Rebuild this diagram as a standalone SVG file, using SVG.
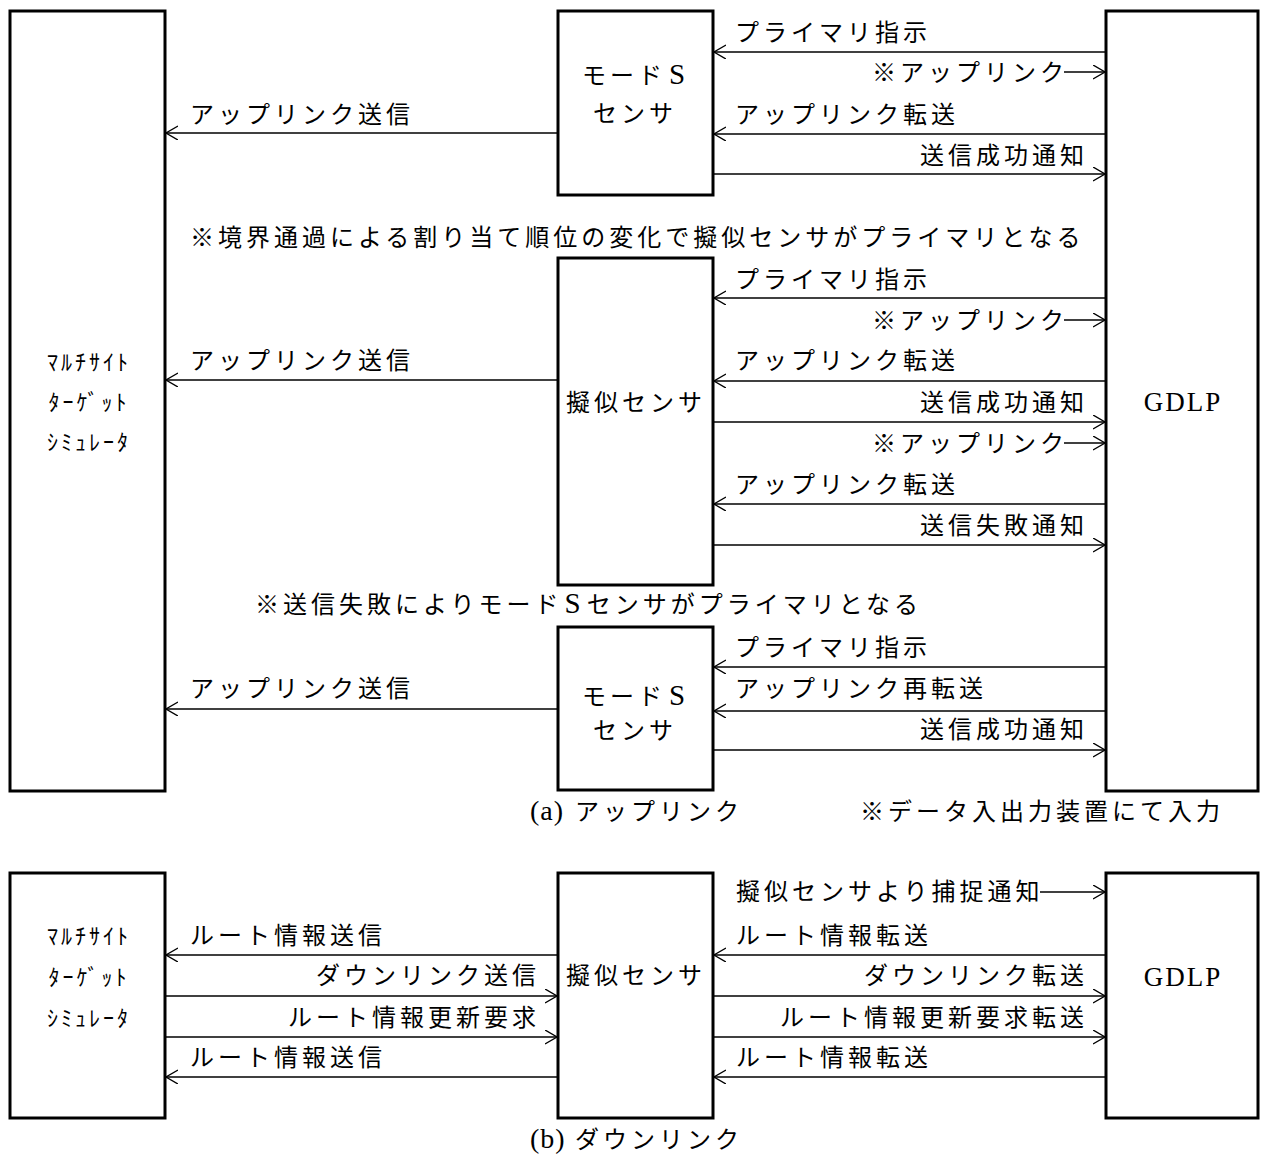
<svg xmlns="http://www.w3.org/2000/svg" width="1264" height="1154" viewBox="0 0 1264 1154">
<defs>
<style>
.box{fill:#fff;stroke:#000;stroke-width:3}
.ln{stroke:#000;stroke-width:1.4;fill:none;marker-end:url(#ah)}
.t{font-family:"Noto Sans CJK JP","Noto Sans CJK SC",sans-serif;font-size:24px;letter-spacing:4px;fill:#000}
.e{text-anchor:end}
.h{font-family:"Noto Sans CJK JP",sans-serif;font-size:22px;letter-spacing:3px;fill:#000;text-anchor:middle}
.s{font-family:"Liberation Serif",serif;font-size:29px;letter-spacing:0}
.c{font-family:"Liberation Serif",serif;font-size:28px;letter-spacing:1px}
.g{font-family:"Liberation Serif",serif;font-size:27px;letter-spacing:2px;text-anchor:middle;fill:#000}
</style>
<marker id="ah" markerWidth="14" markerHeight="16" refX="12" refY="7" orient="auto" markerUnits="userSpaceOnUse">
<path d="M0,0 L12,7 L0,14" fill="none" stroke="#000" stroke-width="1.4"/>
</marker>
</defs>
<rect width="1264" height="1154" fill="#fff"/>

<g id="sim-a">
<rect class="box" x="10" y="11" width="155" height="780"/>
<text class="h" x="89" y="370">ﾏﾙﾁｻｲﾄ</text>
<text class="h" x="89" y="410">ﾀｰｹﾞｯﾄ</text>
<text class="h" x="89" y="450">ｼﾐｭﾚｰﾀ</text>
</g>
<g id="modes-a1">
<rect class="box" x="558" y="11" width="155" height="184"/>
<text class="t" x="582" y="84">モード<tspan class="s" x="669">S</tspan></text>
<text class="t" x="593" y="122">センサ</text>
</g>
<g id="pseudo-a">
<rect class="box" x="558" y="258" width="155" height="327"/>
<text class="t" x="566" y="411">擬似センサ</text>
</g>
<g id="modes-a2">
<rect class="box" x="558" y="627" width="155" height="163"/>
<text class="t" x="582" y="705">モード<tspan class="s" x="669">S</tspan></text>
<text class="t" x="593" y="739">センサ</text>
</g>
<g id="gdlp-a">
<rect class="box" x="1106" y="11" width="152" height="780"/>
<text class="g" x="1183" y="411">GDLP</text>
</g>

<g id="sim-b">
<rect class="box" x="10" y="873" width="155" height="245"/>
<text class="h" x="89" y="944">ﾏﾙﾁｻｲﾄ</text>
<text class="h" x="89" y="985">ﾀｰｹﾞｯﾄ</text>
<text class="h" x="89" y="1026">ｼﾐｭﾚｰﾀ</text>
</g>
<g id="pseudo-b">
<rect class="box" x="558" y="873" width="155" height="245"/>
<text class="t" x="566" y="984">擬似センサ</text>
</g>
<g id="gdlp-b">
<rect class="box" x="1106" y="873" width="152" height="245"/>
<text class="g" x="1183" y="986">GDLP</text>
</g>

<g id="connectors">
<line class="ln" x1="1106" y1="52" x2="714" y2="52"/>
<line class="ln" x1="1064" y1="72" x2="1105" y2="72"/>
<line class="ln" x1="1106" y1="134" x2="714" y2="134"/>
<line class="ln" x1="713" y1="174" x2="1105" y2="174"/>
<line class="ln" x1="558" y1="133" x2="166" y2="133"/>
<line class="ln" x1="1106" y1="298" x2="714" y2="298"/>
<line class="ln" x1="1064" y1="320" x2="1105" y2="320"/>
<line class="ln" x1="1106" y1="381" x2="714" y2="381"/>
<line class="ln" x1="713" y1="422" x2="1105" y2="422"/>
<line class="ln" x1="1064" y1="443" x2="1105" y2="443"/>
<line class="ln" x1="1106" y1="504" x2="714" y2="504"/>
<line class="ln" x1="713" y1="545" x2="1105" y2="545"/>
<line class="ln" x1="558" y1="380" x2="166" y2="380"/>
<line class="ln" x1="1106" y1="667" x2="714" y2="667"/>
<line class="ln" x1="1106" y1="711" x2="714" y2="711"/>
<line class="ln" x1="713" y1="750" x2="1105" y2="750"/>
<line class="ln" x1="558" y1="709" x2="166" y2="709"/>
<line class="ln" x1="1040" y1="892" x2="1105" y2="892"/>
<line class="ln" x1="1106" y1="955" x2="714" y2="955"/>
<line class="ln" x1="713" y1="996" x2="1105" y2="996"/>
<line class="ln" x1="713" y1="1037" x2="1105" y2="1037"/>
<line class="ln" x1="1106" y1="1077" x2="714" y2="1077"/>
<line class="ln" x1="558" y1="955" x2="166" y2="955"/>
<line class="ln" x1="165" y1="996" x2="557" y2="996"/>
<line class="ln" x1="165" y1="1037" x2="557" y2="1037"/>
<line class="ln" x1="558" y1="1077" x2="166" y2="1077"/>
</g>

<g id="labels">
<text class="t" x="735" y="41">プライマリ指示</text>
<text class="t e" x="1068" y="81">※アップリンク</text>
<text class="t" x="735" y="123">アップリンク転送</text>
<text class="t e" x="1088" y="164">送信成功通知</text>
<text class="t" x="190" y="123">アップリンク送信</text>

<text class="t" x="190" y="246">※境界通過による割り当て順位の変化で擬似センサがプライマリとなる</text>

<text class="t" x="735" y="288">プライマリ指示</text>
<text class="t e" x="1068" y="329">※アップリンク</text>
<text class="t" x="735" y="369">アップリンク転送</text>
<text class="t e" x="1088" y="411">送信成功通知</text>
<text class="t e" x="1068" y="452">※アップリンク</text>
<text class="t" x="735" y="493">アップリンク転送</text>
<text class="t e" x="1088" y="534">送信失敗通知</text>
<text class="t" x="190" y="369">アップリンク送信</text>

<text class="t" x="255" y="613">※送信失敗によりモード<tspan class="s" dx="2">S</tspan><tspan dx="6">センサがプライマリとなる</tspan></text>

<text class="t" x="735" y="656">プライマリ指示</text>
<text class="t" x="735" y="697">アップリンク再転送</text>
<text class="t e" x="1088" y="738">送信成功通知</text>
<text class="t" x="190" y="697">アップリンク送信</text>

<text class="t" x="530" y="820"><tspan class="c">(a)</tspan><tspan x="575">アップリンク</tspan></text>
<text class="t" x="860" y="820">※データ入出力装置にて入力</text>

<text class="t" x="736" y="900">擬似センサより捕捉通知</text>
<text class="t" x="736" y="944">ルート情報転送</text>
<text class="t e" x="1088" y="984">ダウンリンク転送</text>
<text class="t e" x="1088" y="1026">ルート情報更新要求転送</text>
<text class="t" x="736" y="1066">ルート情報転送</text>

<text class="t" x="190" y="944">ルート情報送信</text>
<text class="t e" x="540" y="984">ダウンリンク送信</text>
<text class="t e" x="540" y="1026">ルート情報更新要求</text>
<text class="t" x="190" y="1066">ルート情報送信</text>

<text class="t" x="530" y="1148"><tspan class="c">(b)</tspan><tspan x="575">ダウンリンク</tspan></text>
</g>
</svg>
